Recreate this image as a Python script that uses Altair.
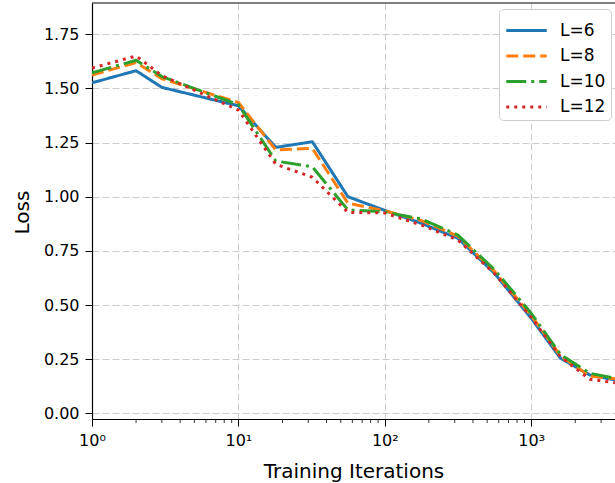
import altair as alt
import pandas as pd

iterations = [1, 2, 3, 10, 18, 32, 56, 100, 178, 316, 562, 1000, 1585, 2512, 3735]
loss_L6 = [1.526, 1.582, 1.505, 1.420, 1.228, 1.254, 1.000, 0.937, 0.877, 0.808, 0.646, 0.439, 0.254, 0.177, 0.154]
loss_L8 = [1.562, 1.620, 1.545, 1.435, 1.216, 1.223, 0.970, 0.935, 0.890, 0.818, 0.655, 0.452, 0.265, 0.172, 0.160]
loss_L10 = [1.572, 1.630, 1.555, 1.425, 1.165, 1.138, 0.939, 0.930, 0.897, 0.823, 0.662, 0.462, 0.272, 0.185, 0.162]
loss_L12 = [1.594, 1.650, 1.560, 1.400, 1.150, 1.090, 0.928, 0.925, 0.869, 0.800, 0.645, 0.443, 0.261, 0.157, 0.141]

series_names = ["L=6", "L=8", "L=10", "L=12"]
series_values = [loss_L6, loss_L8, loss_L10, loss_L12]
series_colors = ["#1f77b4", "#ff7f0e", "#2ca02c", "#d62728"]
series_dashes = [[1, 0], [12, 5], [20, 5, 3, 5], [3, 5]]

major_ticks = [1, 10, 100, 1000]
minor_ticks = [m * 10 ** e for e in range(4) for m in range(2, 10) if m * 10 ** e <= 3735]
y_ticks = [0.0, 0.25, 0.5, 0.75, 1.0, 1.25, 1.5, 1.75]

X_MAX = 3735
Y_DOMAIN = [-0.0263, 1.8946]
W, H = 523, 416
FONT = "DejaVu Sans"

rows = []
for name, vals in zip(series_names, series_values):
    for it, v in zip(iterations, vals):
        rows.append({"iter": it, "loss": v, "series": name})
df = pd.DataFrame(rows)

x_scale = alt.Scale(type="log", domain=[1, X_MAX], nice=False)
y_scale = alt.Scale(domain=Y_DOMAIN, nice=False, zero=False)

sup_expr = ("'10' + (datum.value == 1 ? '\u2070' : datum.value == 10 ? '\u00b9' : "
            "datum.value == 100 ? '\u00b2' : '\u00b3')")


def make_legend():
    return alt.Legend(title=None, orient="none", legendX=407, legendY=6,
                      symbolType="M-1.35,0H1.35", symbolSize=900, symbolStrokeWidth=3,
                      symbolFillColor="transparent", symbolOffset=6,
                      labelFont=FONT, labelFontSize=17, labelColor="black",
                      labelOffset=17, rowPadding=0.5, padding=5,
                      fillColor="white", strokeColor="#cccccc", cornerRadius=4)


lines = alt.Chart(df).mark_line(strokeWidth=3, clip=True, strokeCap="butt", strokeJoin="round").encode(
    x=alt.X("iter:Q", scale=x_scale,
            axis=alt.Axis(values=major_ticks, labelExpr=sup_expr, grid=True,
                          gridDash=[7, 3], gridColor="#cccccc", gridWidth=1,
                          tickSize=7, tickColor="black", tickWidth=1,
                          domainColor="black", domainWidth=1.2,
                          labelFont=FONT, labelFontSize=16, labelColor="black", labelPadding=6,
                          labelFlush=False,
                          title="Training Iterations", titleFont=FONT, titleFontSize=20,
                          titleFontWeight="normal", titleColor="black",
                          titleBaseline="alphabetic", titleY=58)),
    y=alt.Y("loss:Q", scale=y_scale,
            axis=alt.Axis(values=y_ticks, format=".2f", grid=True,
                          gridDash=[7, 3], gridColor="#cccccc", gridWidth=1,
                          tickSize=7, tickColor="black", tickWidth=1,
                          domainColor="black", domainWidth=1.2,
                          labelFont=FONT, labelFontSize=16, labelColor="black", labelPadding=6,
                          title="Loss", titleFont=FONT, titleFontSize=20,
                          titleFontWeight="normal", titleColor="black",
                          titleAngle=270, titleAlign="center", titleBaseline="alphabetic",
                          titleX=-64, titleY=209)),
    color=alt.Color("series:N", scale=alt.Scale(domain=series_names, range=series_colors),
                    legend=make_legend()),
    strokeDash=alt.StrokeDash("series:N", scale=alt.Scale(domain=series_names, range=series_dashes),
                              legend=make_legend()),
)

minor = alt.Chart(pd.DataFrame({"iter": minor_ticks})).mark_rule(color="black", strokeWidth=0.8).encode(
    x=alt.X("iter:Q", scale=x_scale),
    y=alt.value(H),
    y2=alt.value(H + 4),
)

top_border = alt.Chart(pd.DataFrame({"a": [0]})).mark_rule(color="black", strokeWidth=1.2).encode(
    x=alt.value(0), x2=alt.value(W), y=alt.value(0)
)

chart = alt.layer(lines, minor, top_border).properties(
    width=W, height=H,
    autosize=alt.AutoSizeParams(type="none"),
    padding={"left": 92, "top": 3, "right": 0, "bottom": 64},
).configure_view(stroke=None)

chart.save("out.html", embed_options={"renderer": "svg", "actions": False})
